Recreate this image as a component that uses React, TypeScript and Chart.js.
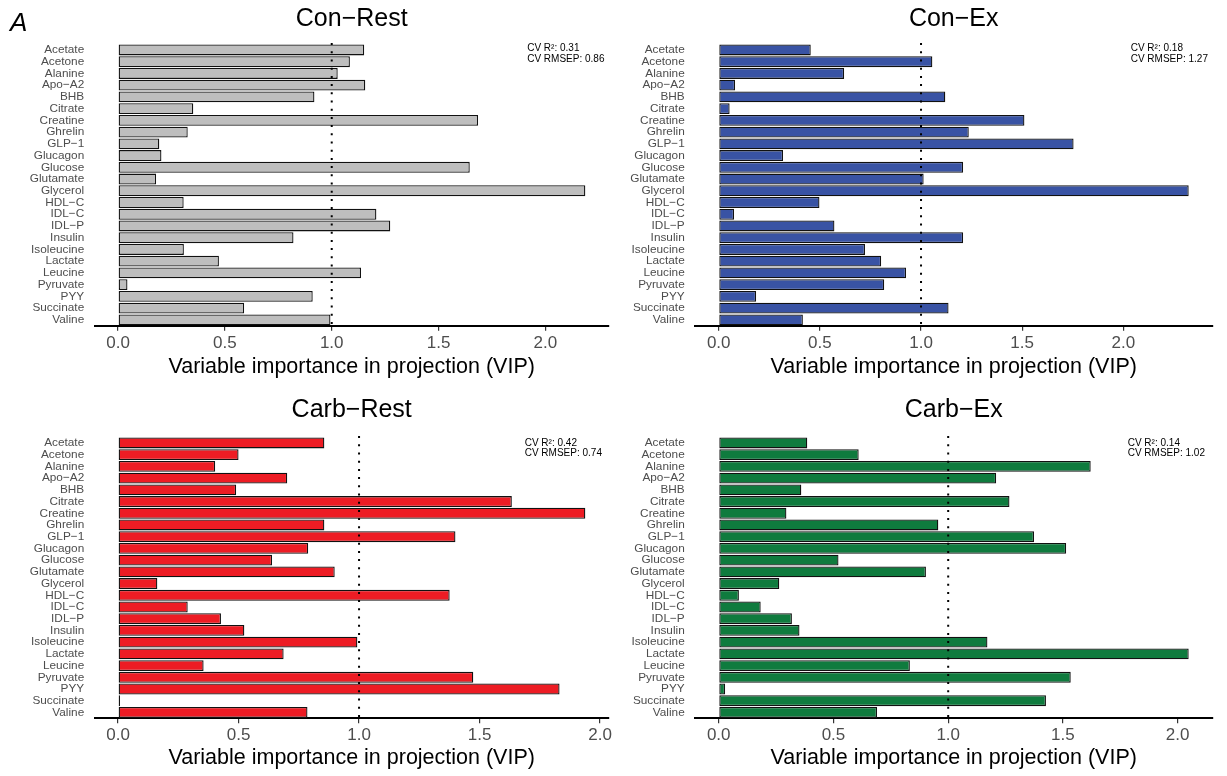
import React, { useEffect, useRef } from "react";
import { Chart, registerables } from "chart.js";

Chart.register(...registerables);

const FONT = '"Liberation Sans", Arial, Helvetica, sans-serif';
Chart.defaults.font.family = FONT;

// ---------- data ----------
const METABOLITES = [
  "Acetate", "Acetone", "Alanine", "Apo−A2", "BHB", "Citrate", "Creatine", "Ghrelin",
  "GLP−1", "Glucagon", "Glucose", "Glutamate", "Glycerol", "HDL−C", "IDL−C", "IDL−P",
  "Insulin", "Isoleucine", "Lactate", "Leucine", "Pyruvate", "PYY", "Succinate", "Valine",
];

const CON_REST = [1.152, 1.085, 1.028, 1.157, 0.919, 0.352, 1.685, 0.326, 0.193, 0.203, 1.646, 0.178,
  2.187, 0.307, 1.209, 1.274, 0.821, 0.308, 0.472, 1.137, 0.044, 0.911, 0.590, 0.994];
const CON_EX = [0.455, 1.056, 0.620, 0.081, 1.120, 0.054, 1.511, 1.236, 1.754, 0.318, 1.208, 1.013,
  2.323, 0.498, 0.076, 0.572, 1.208, 0.723, 0.803, 0.926, 0.818, 0.185, 1.136, 0.416];
const CARB_REST = [0.856, 0.500, 0.403, 0.702, 0.490, 1.634, 1.939, 0.856, 1.400, 0.789, 0.639, 0.899,
  0.163, 1.376, 0.289, 0.427, 0.524, 0.993, 0.687, 0.355, 1.474, 1.832, 0.008, 0.786];
const CARB_EX = [0.386, 0.610, 1.621, 1.209, 0.360, 1.267, 0.295, 0.957, 1.374, 1.514, 0.522, 0.903,
  0.264, 0.088, 0.183, 0.319, 0.352, 1.171, 2.048, 0.833, 1.534, 0.028, 1.426, 0.690];

const PANEL_TITLES = ["Con−Rest", "Con−Ex", "Carb−Rest", "Carb−Ex"];
const CV_R2 = [0.31, 0.18, 0.42, 0.14];
const CV_RMSEP = [0.86, 1.27, 0.74, 1.02];
const X_TICKS = [0, 0.5, 1.0, 1.5, 2.0];
const VIP_THRESHOLD = 1;
const AXIS_TITLE = "Variable importance in projection (VIP)";
const PANEL_LETTER = "A";

// ---------- styles / layout ----------
const COLORS = ["#BEBEBE", "#3953A4", "#ED1C24", "#0F7B3E"];
const SERIES = [CON_REST, CON_EX, CARB_REST, CARB_EX];

const LAYOUT = [
  { left: 0, top: 0, w: 630, yW: 94.7, padTop: 44.1, padRight: 21.3, xH: 62.3, tickPad: 2.4, titlePad: 8.4, titleY: 19, cvDx: -81.5, cvY1: 4.6, cvY2: 15.4, letter: true },
  { left: 600, top: 0, w: 627, yW: 95.2, padTop: 44.1, padRight: 14.8, xH: 62.3, tickPad: 2.4, titlePad: 8.4, titleY: 19, cvDx: -81.5, cvY1: 4.6, cvY2: 15.4, letter: false },
  { left: 0, top: 388, w: 630, yW: 94.7, padTop: 49.1, padRight: 21.3, xH: 57.7, tickPad: 1.5, titlePad: 4.8, titleY: 22, cvDx: -84, cvY1: 5.7, cvY2: 16.6, letter: false },
  { left: 600, top: 388, w: 627, yW: 95.2, padTop: 49.1, padRight: 14.8, xH: 57.7, tickPad: 1.5, titlePad: 4.8, titleY: 22, cvDx: -84.5, cvY1: 5.7, cvY2: 16.6, letter: false },
];

const decorPlugin = {
  id: "decor",
  afterDatasetsDraw(chart: any, _args: any, opts: any) {
    const { ctx, chartArea, scales } = chart;
    const x = scales.x.getPixelForValue(opts.threshold);
    ctx.save();
    ctx.strokeStyle = "#000";
    ctx.lineWidth = 2;
    ctx.setLineDash([2, 6.2]);
    ctx.beginPath();
    ctx.moveTo(x, chartArea.top - 1);
    ctx.lineTo(x, chartArea.bottom);
    ctx.stroke();
    ctx.restore();
  },
  afterDraw(chart: any, _args: any, opts: any) {
    const { ctx, chartArea } = chart;
    ctx.save();
    ctx.fillStyle = "#000";
    ctx.textBaseline = "middle";
    ctx.textAlign = "center";
    ctx.font = `25px ${FONT}`;
    ctx.fillText(opts.title, (chartArea.left + chartArea.right) / 2, opts.titleY);

    ctx.textAlign = "left";
    ctx.font = `10px ${FONT}`;
    ctx.fillText(`CV R²: ${opts.r2.toFixed(2)}`, chartArea.right + opts.cvDx, chartArea.top + opts.cvY1);
    ctx.fillText(`CV RMSEP: ${opts.rmsep.toFixed(2)}`, chartArea.right + opts.cvDx, chartArea.top + opts.cvY2);

    if (opts.letter) {
      ctx.textBaseline = "alphabetic";
      ctx.font = `italic 26px ${FONT}`;
      ctx.fillText(opts.letter, 10, 31);
    }
    ctx.restore();
  },
};

function Panel({ idx }: { idx: number }) {
  const ref = useRef<HTMLCanvasElement | null>(null);
  const L = LAYOUT[idx];
  useEffect(() => {
    if (!ref.current) return;
    const values = SERIES[idx];
    const vmax = Math.max(...values);
    const chart = new Chart(ref.current, {
      type: "bar",
      data: {
        labels: METABOLITES,
        datasets: [
          {
            data: values,
            backgroundColor: COLORS[idx],
            borderColor: "#111",
            borderWidth: 1.3,
            borderSkipped: false,
            barPercentage: 0.93,
            categoryPercentage: 1,
          },
        ],
      },
      options: {
        indexAxis: "y",
        responsive: false,
        animation: false,
        devicePixelRatio: 1,
        layout: { padding: { top: L.padTop, right: L.padRight, left: 0, bottom: 0 } },
        plugins: {
          legend: { display: false },
          tooltip: { enabled: false },
          title: { display: false },
          decor: {
            threshold: VIP_THRESHOLD,
            title: PANEL_TITLES[idx],
            titleY: L.titleY,
            r2: CV_R2[idx],
            rmsep: CV_RMSEP[idx],
            cvDx: L.cvDx,
            cvY1: L.cvY1,
            cvY2: L.cvY2,
            letter: L.letter ? PANEL_LETTER : "",
          },
        } as any,
        scales: {
          x: {
            type: "linear",
            position: "bottom",
            min: -0.05 * vmax,
            max: 1.05 * vmax,
            afterBuildTicks: (s: any) => {
              s.ticks = X_TICKS.map((v) => ({ value: v }));
            },
            afterFit: (s: any) => {
              s.height = L.xH;
              s.paddingLeft = 0;
              s.paddingRight = 0;
            },
            grid: {
              display: true,
              drawOnChartArea: false,
              drawTicks: true,
              tickLength: 5,
              color: "#333",
              lineWidth: 1.2,
            },
            border: { display: true, color: "#000", width: 2 },
            ticks: {
              autoSkip: false,
              maxRotation: 0,
              padding: L.tickPad,
              color: "#4D4D4D",
              font: { size: 17, lineHeight: 1.2 },
              callback: (v: any) => Number(v).toFixed(1),
            },
            title: {
              display: true,
              text: AXIS_TITLE,
              color: "#000",
              font: { size: 21.5, lineHeight: 1.2 },
              padding: { top: 0, bottom: L.titlePad },
            },
          },
          y: {
            type: "category",
            position: "left",
            afterFit: (s: any) => {
              s.width = L.yW;
              s.paddingTop = 0;
              s.paddingBottom = 0;
            },
            grid: { display: false, drawTicks: false },
            border: { display: false },
            ticks: {
              autoSkip: false,
              padding: 10.5,
              color: "#4D4D4D",
              font: { size: 11.8, lineHeight: 1 },
            },
          },
        },
      } as any,
      plugins: [decorPlugin as any],
    });
    return () => chart.destroy();
  }, [idx]);

  return (
    <canvas
      ref={ref}
      width={L.w}
      height={388}
      style={{ position: "absolute", left: L.left, top: L.top, width: L.w, height: 388 }}
    />
  );
}

export default function App() {
  return (
    <div
      style={{
        position: "fixed",
        left: 0,
        top: 0,
        width: 1227,
        height: 776,
        background: "#fff",
        overflow: "hidden",
      }}
    >
      {[0, 1, 2, 3].map((i) => (
        <Panel key={i} idx={i} />
      ))}
    </div>
  );
}
